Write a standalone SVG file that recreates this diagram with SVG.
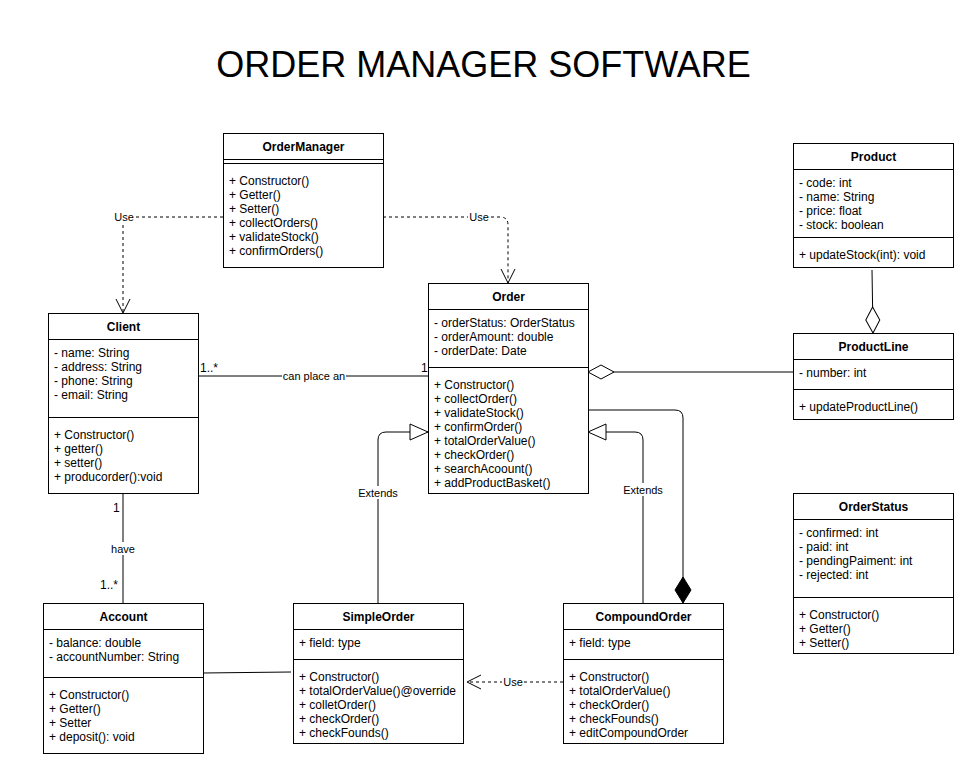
<svg xmlns="http://www.w3.org/2000/svg" width="971" height="774" viewBox="0 0 971 774">
<style>
  text { font-family: "Liberation Sans", Arial, sans-serif; fill: #000; }
  .title { font-size: 36px; text-anchor: middle; }
  .hdr { font-size: 12px; font-weight: bold; text-anchor: middle; }
  .m { font-size: 12px; }
  .lbl { font-size: 11px; text-anchor: middle; }
  .lblbg { fill: #fff; }
  .box { fill: #fff; stroke: #000; stroke-width: 1; }
  .div { stroke: #000; stroke-width: 1; fill: none; }
  .ln { stroke: #000; stroke-width: 1; fill: none; }
  .dash { stroke-dasharray: 3 3; }
</style>
<defs>
  <marker id="openArrow" markerUnits="userSpaceOnUse" markerWidth="16" markerHeight="16" viewBox="-1 -1 16 16" refX="14" refY="7" orient="auto">
    <path d="M0,0 L14,7 L0,14" fill="none" stroke="#000" stroke-width="1" stroke-dasharray="none"/>
  </marker>
  <marker id="triangle" markerUnits="userSpaceOnUse" markerWidth="20" markerHeight="18" viewBox="-1 -1 20 18" refX="18" refY="8" orient="auto">
    <path d="M0,0 L18,8 L0,16 Z" fill="#fff" stroke="#000" stroke-width="1"/>
  </marker>
  <marker id="hollowDiamond" markerUnits="userSpaceOnUse" markerWidth="28" markerHeight="16" viewBox="-1 -1 28 16" refX="26" refY="7" orient="auto">
    <path d="M0,7 L13,0 L26,7 L13,14 Z" fill="#fff" stroke="#000" stroke-width="1"/>
  </marker>
  <marker id="filledDiamond" markerUnits="userSpaceOnUse" markerWidth="28" markerHeight="18" viewBox="-1 -1 28 18" refX="26" refY="8" orient="auto">
    <path d="M0,8 L13,0 L26,8 L13,16 Z" fill="#000" stroke="#000" stroke-width="1"/>
  </marker>
</defs>
<rect x="0" y="0" width="971" height="774" fill="#fff"/>
<text class="title" x="483.5" y="77">ORDER MANAGER SOFTWARE</text>

<g id="connectors">
  <!-- OrderManager -> Client (Use) -->
  <path class="ln dash" d="M223,217 H123 V313" marker-end="url(#openArrow)"/>
  <rect class="lblbg" x="113" y="210" width="22" height="13"/>
  <text class="lbl" x="124" y="221">Use</text>
  <!-- OrderManager -> Order (Use) -->
  <path class="ln dash" d="M383,217 H500 Q508,217 508,225 V283" marker-end="url(#openArrow)"/>
  <rect class="lblbg" x="468" y="210" width="22" height="13"/>
  <text class="lbl" x="479" y="221">Use</text>
  <!-- Client - Order -->
  <path class="ln" d="M198,376 H428"/>
  <rect class="lblbg" x="282" y="369" width="64" height="13"/>
  <text class="lbl" x="314" y="380">can place an</text>
  <text class="m" x="200" y="372">1..*</text>
  <text class="m" x="421" y="372">1</text>
  <!-- Client - Account -->
  <path class="ln" d="M123,493 V603"/>
  <text class="m" x="113" y="512">1</text>
  <rect class="lblbg" x="110" y="542" width="26" height="13"/>
  <text class="lbl" x="123" y="553">have</text>
  <text class="m" x="100" y="589">1..*</text>
  <!-- SimpleOrder -> Order (Extends) -->
  <path class="ln" d="M378,603 V440 Q378,432 386,432 H428" marker-end="url(#triangle)"/>
  <rect class="lblbg" x="357" y="486" width="42" height="13"/>
  <text class="lbl" x="378" y="497">Extends</text>
  <!-- CompoundOrder -> Order (Extends) -->
  <path class="ln" d="M643,603 V440 Q643,432 635,432 H588" marker-end="url(#triangle)"/>
  <rect class="lblbg" x="622" y="483" width="42" height="13"/>
  <text class="lbl" x="643" y="494">Extends</text>
  <!-- Order - CompoundOrder (Composition) -->
  <path class="ln" d="M588,410 H675 Q683,410 683,418 V603" marker-end="url(#filledDiamond)"/>
  <!-- ProductLine - Order (Aggregation) -->
  <path class="ln" d="M793,372 H588" marker-end="url(#hollowDiamond)"/>
  <!-- Product - ProductLine (Aggregation) -->
  <path class="ln" d="M872,270 L873,333" marker-end="url(#hollowDiamond)"/>
  <!-- Account - SimpleOrder -->
  <path class="ln" d="M203,673 L291,672"/>
  <!-- CompoundOrder -> SimpleOrder (Use) -->
  <path class="ln dash" d="M563,682 H467" marker-end="url(#openArrow)"/>
  <rect class="lblbg" x="502" y="675" width="22" height="13"/>
  <text class="lbl" x="513" y="686">Use</text>
</g>

<g id="OrderManager">
  <rect class="box" x="223.5" y="133.5" width="160" height="134"/>
  <path class="div" d="M223.5,159.5 H383.5 M223.5,163.5 H383.5"/>
  <text class="hdr" x="303.5" y="151">OrderManager</text>
  <text class="m" x="229" y="185">+ Constructor()</text>
  <text class="m" x="229" y="199">+ Getter()</text>
  <text class="m" x="229" y="213">+ Setter()</text>
  <text class="m" x="229" y="227">+ collectOrders()</text>
  <text class="m" x="229" y="241">+ validateStock()</text>
  <text class="m" x="229" y="255">+ confirmOrders()</text>
</g>

<g id="Order">
  <rect class="box" x="428.5" y="283.5" width="160" height="210"/>
  <path class="div" d="M428.5,309.5 H588.5 M428.5,367.5 H588.5"/>
  <text class="hdr" x="508.5" y="301">Order</text>
  <text class="m" x="434" y="327">- orderStatus: OrderStatus</text>
  <text class="m" x="434" y="341">- orderAmount: double</text>
  <text class="m" x="434" y="355">- orderDate: Date</text>
  <text class="m" x="434" y="389">+ Constructor()</text>
  <text class="m" x="434" y="403">+ collectOrder()</text>
  <text class="m" x="434" y="417">+ validateStock()</text>
  <text class="m" x="434" y="431">+ confirmOrder()</text>
  <text class="m" x="434" y="445">+ totalOrderValue()</text>
  <text class="m" x="434" y="459">+ checkOrder()</text>
  <text class="m" x="434" y="473">+ searchAcoount()</text>
  <text class="m" x="434" y="487">+ addProductBasket()</text>
</g>

<g id="Product">
  <rect class="box" x="793.5" y="143.5" width="160" height="124"/>
  <path class="div" d="M793.5,169.5 H953.5 M793.5,237.5 H953.5"/>
  <text class="hdr" x="873.5" y="161">Product</text>
  <text class="m" x="799" y="187">- code: int</text>
  <text class="m" x="799" y="201">- name: String</text>
  <text class="m" x="799" y="215">- price: float</text>
  <text class="m" x="799" y="229">- stock: boolean</text>
  <text class="m" x="799" y="259">+ updateStock(int): void</text>
</g>

<g id="ProductLine">
  <rect class="box" x="793.5" y="333.5" width="160" height="86"/>
  <path class="div" d="M793.5,359.5 H953.5 M793.5,389.5 H953.5"/>
  <text class="hdr" x="873.5" y="351">ProductLine</text>
  <text class="m" x="799" y="377">- number: int</text>
  <text class="m" x="799" y="411">+ updateProductLine()</text>
</g>

<g id="OrderStatus">
  <rect class="box" x="793.5" y="493.5" width="160" height="160"/>
  <path class="div" d="M793.5,519.5 H953.5 M793.5,597.5 H953.5"/>
  <text class="hdr" x="873.5" y="511">OrderStatus</text>
  <text class="m" x="799" y="537">- confirmed: int</text>
  <text class="m" x="799" y="551">- paid: int</text>
  <text class="m" x="799" y="565">- pendingPaiment: int</text>
  <text class="m" x="799" y="579">- rejected: int</text>
  <text class="m" x="799" y="619">+ Constructor()</text>
  <text class="m" x="799" y="633">+ Getter()</text>
  <text class="m" x="799" y="647">+ Setter()</text>
</g>

<g id="Client">
  <rect class="box" x="48.5" y="313.5" width="150" height="180"/>
  <path class="div" d="M48.5,339.5 H198.5 M48.5,417.5 H198.5"/>
  <text class="hdr" x="123.5" y="331">Client</text>
  <text class="m" x="54" y="357">- name: String</text>
  <text class="m" x="54" y="371">- address: String</text>
  <text class="m" x="54" y="385">- phone: String</text>
  <text class="m" x="54" y="399">- email: String</text>
  <text class="m" x="54" y="439">+ Constructor()</text>
  <text class="m" x="54" y="453">+ getter()</text>
  <text class="m" x="54" y="467">+ setter()</text>
  <text class="m" x="54" y="481">+ producorder():void</text>
</g>

<g id="Account">
  <rect class="box" x="43.5" y="603.5" width="160" height="150"/>
  <path class="div" d="M43.5,629.5 H203.5 M43.5,677.5 H203.5"/>
  <text class="hdr" x="123.5" y="621">Account</text>
  <text class="m" x="49" y="647">- balance: double</text>
  <text class="m" x="49" y="661">- accountNumber: String</text>
  <text class="m" x="49" y="699">+ Constructor()</text>
  <text class="m" x="49" y="713">+ Getter()</text>
  <text class="m" x="49" y="727">+ Setter</text>
  <text class="m" x="49" y="741">+ deposit(): void</text>
</g>

<g id="SimpleOrder">
  <rect class="box" x="293.5" y="603.5" width="170" height="140"/>
  <path class="div" d="M293.5,629.5 H463.5 M293.5,659.5 H463.5"/>
  <text class="hdr" x="378.5" y="621">SimpleOrder</text>
  <text class="m" x="299" y="647">+ field: type</text>
  <text class="m" x="299" y="681">+ Constructor()</text>
  <text class="m" x="299" y="695">+ totalOrderValue()@override</text>
  <text class="m" x="299" y="709">+ colletOrder()</text>
  <text class="m" x="299" y="723">+ checkOrder()</text>
  <text class="m" x="299" y="737">+ checkFounds()</text>
</g>

<g id="CompoundOrder">
  <rect class="box" x="563.5" y="603.5" width="160" height="140"/>
  <path class="div" d="M563.5,629.5 H723.5 M563.5,659.5 H723.5"/>
  <text class="hdr" x="643.5" y="621">CompoundOrder</text>
  <text class="m" x="569" y="647">+ field: type</text>
  <text class="m" x="569" y="681">+ Constructor()</text>
  <text class="m" x="569" y="695">+ totalOrderValue()</text>
  <text class="m" x="569" y="709">+ checkOrder()</text>
  <text class="m" x="569" y="723">+ checkFounds()</text>
  <text class="m" x="569" y="737">+ editCompoundOrder</text>
</g>
</svg>
